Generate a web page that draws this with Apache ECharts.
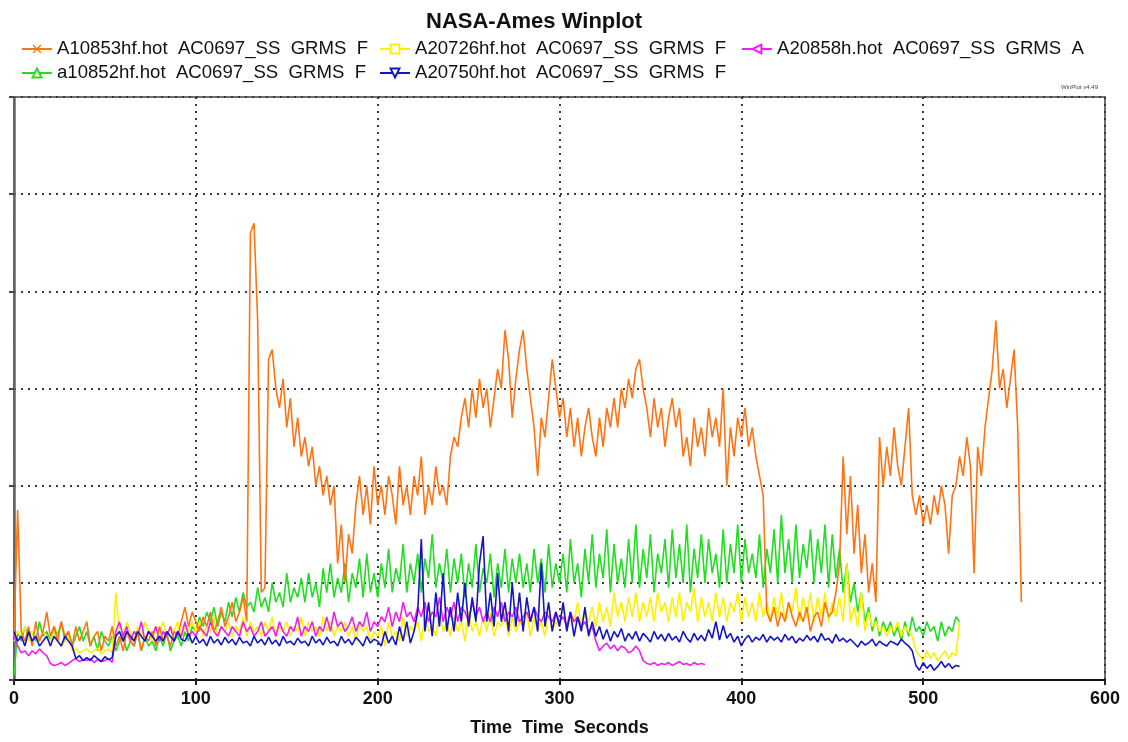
<!DOCTYPE html>
<html>
<head>
<meta charset="utf-8">
<title>NASA-Ames Winplot</title>
<script src="https://cdn.jsdelivr.net/npm/echarts@6/dist/echarts.min.js"></script>
<style>
  html, body { margin: 0; padding: 0; background: #ffffff; }
  #chart { width: 1128px; height: 742px; }
</style>
</head>
<body>
<div id="chart"></div>
<script>
// Sampling interval of the recorded GRMS traces, in seconds
const STEP = 2;

const xTicks = [0, 100, 200, 300, 400, 500, 600];

const nameOrange  = 'A10853hf.hot  AC0697_SS  GRMS  F';
const nameYellow  = 'A20726hf.hot  AC0697_SS  GRMS  F';
const nameMagenta = 'A20858h.hot  AC0697_SS  GRMS  A';
const nameGreen   = 'a10852hf.hot  AC0697_SS  GRMS  F';
const nameBlue    = 'A20750hf.hot  AC0697_SS  GRMS  F';

// GRMS readings, one every STEP seconds starting at t = 0
const orangeVals = [
  0.45,1.75,0.5,0.4,0.55,0.35,0.6,0.4,0.5,0.7,
  0.45,0.55,0.4,0.6,0.45,0.5,0.35,0.55,0.4,0.5,
  0.6,0.35,0.45,0.5,0.3,0.45,0.4,0.55,0.35,0.45,
  0.3,0.5,0.4,0.35,0.5,0.3,0.45,0.4,0.5,0.35,
  0.55,0.4,0.45,0.35,0.5,0.45,0.6,0.75,0.55,0.7,
  0.6,0.5,0.65,0.55,0.7,0.5,0.6,0.75,0.55,0.65,
  0.8,0.6,0.7,0.85,0.6,4.6,4.7,3.7,0.9,0.95,
  3.3,3.4,3.0,2.8,3.1,2.6,2.9,2.4,2.7,2.3,
  2.5,2.2,2.4,2.0,2.2,1.9,2.1,1.8,2.0,1.2,
  1.6,1.0,1.5,1.3,1.8,2.1,1.7,2.0,1.6,2.2,
  1.8,2.0,1.7,2.1,1.9,1.6,2.2,1.8,2.0,1.7,
  2.1,1.9,2.3,1.7,2.0,1.8,2.2,1.9,2.0,1.8,
  2.3,2.5,2.4,2.7,2.9,2.6,3.0,2.7,3.1,2.8,
  3.0,2.6,2.9,3.2,3.0,3.6,3.3,2.7,3.1,3.4,
  3.6,3.2,2.9,2.6,2.1,2.7,2.5,2.9,3.3,3.0,
  2.7,2.9,2.5,2.8,2.4,2.7,2.3,2.6,2.8,2.5,
  2.3,2.7,2.4,2.8,2.6,2.9,2.6,3.0,2.8,3.1,
  2.9,3.2,3.3,3.0,2.8,2.5,2.9,2.6,2.8,2.4,
  2.7,2.9,2.6,2.8,2.3,2.5,2.2,2.7,2.4,2.6,
  2.3,2.8,2.5,2.7,2.4,3.0,2.0,2.6,2.3,2.7,
  2.5,2.8,2.4,2.6,2.3,2.1,1.9,0.7,0.6,0.75,
  0.55,0.7,0.6,0.8,0.65,0.55,0.7,0.6,0.75,0.5,
  0.65,0.7,0.55,0.8,0.65,0.7,0.9,1.2,2.3,1.5,
  2.1,1.3,1.8,1.1,1.5,0.9,1.2,0.8,2.5,2.0,
  2.4,2.1,2.6,2.2,2.0,2.4,2.8,1.9,1.7,1.9,
  1.6,1.8,1.6,1.9,1.7,2.0,1.8,1.3,1.9,2.0,
  2.3,2.1,2.5,2.2,1.1,2.4,2.1,2.6,2.9,3.2,
  3.7,3.0,3.2,2.8,3.1,3.4,2.6,0.8
];

const greenVals = [
  0.05,0.5,0.4,0.55,0.45,0.5,0.4,0.6,0.45,0.5,
  0.4,0.55,0.45,0.6,0.4,0.5,0.35,0.45,0.55,0.4,
  0.5,0.35,0.45,0.3,0.5,0.4,0.35,0.45,0.3,0.4,
  0.45,0.3,0.4,0.35,0.5,0.3,0.45,0.35,0.4,0.3,
  0.45,0.35,0.5,0.3,0.4,0.45,0.35,0.5,0.4,0.55,
  0.5,0.65,0.55,0.7,0.6,0.75,0.55,0.7,0.6,0.8,
  0.65,0.85,0.7,0.9,0.75,0.8,0.7,0.95,0.75,0.85,
  0.7,1.0,0.8,0.9,0.75,1.1,0.8,0.95,0.85,1.05,
  0.8,1.1,0.85,1.0,0.75,1.15,0.9,1.2,0.85,1.05,
  0.9,1.2,0.8,1.1,0.95,1.25,0.85,1.3,0.9,1.1,
  0.85,1.2,0.95,1.35,0.9,1.15,1.0,1.4,0.9,1.2,
  1.0,1.3,0.9,1.25,1.05,1.5,0.95,1.2,1.0,1.35,
  0.9,1.25,1.0,1.3,0.85,1.2,0.95,1.4,0.9,1.15,
  1.0,1.3,0.85,1.2,0.95,1.35,0.9,1.25,1.0,1.3,
  0.95,1.2,0.9,1.35,1.0,1.25,0.9,1.4,0.95,1.2,
  1.0,1.3,0.9,1.45,1.0,1.2,0.85,1.35,1.0,1.5,
  0.95,1.3,1.05,1.55,0.9,1.4,1.0,1.25,0.95,1.45,
  1.0,1.6,0.95,1.35,1.05,1.5,0.9,1.3,1.1,1.45,
  0.95,1.55,1.05,1.4,1.0,1.6,0.9,1.35,1.05,1.5,
  1.0,1.45,1.1,1.3,0.95,1.55,1.0,1.4,1.1,1.6,
  1.0,1.45,1.1,1.3,1.05,1.5,0.95,1.35,1.1,1.55,
  1.0,1.7,1.1,1.45,1.0,1.6,1.05,1.4,1.15,1.55,
  1.0,1.45,1.1,1.6,0.95,1.5,1.05,1.35,0.9,1.2,
  0.8,1.0,0.7,0.9,0.6,0.75,0.5,0.65,0.45,0.6,
  0.5,0.6,0.45,0.55,0.4,0.6,0.45,0.65,0.5,0.55,
  0.45,0.6,0.5,0.55,0.4,0.6,0.45,0.55,0.5,0.65,
  0.6
];

const yellowVals = [
  0.4,0.5,0.45,0.55,0.4,0.5,0.45,0.4,0.5,0.45,
  0.4,0.5,0.45,0.35,0.4,0.45,0.3,0.32,0.28,0.3,
  0.32,0.28,0.3,0.33,0.27,0.3,0.32,0.28,0.9,0.5,
  0.45,0.6,0.5,0.4,0.55,0.45,0.6,0.5,0.4,0.55,
  0.5,0.6,0.45,0.55,0.5,0.6,0.45,0.55,0.5,0.6,
  0.5,0.6,0.45,0.55,0.5,0.65,0.45,0.55,0.5,0.6,
  0.45,0.55,0.5,0.65,0.45,0.6,0.5,0.55,0.45,0.6,
  0.5,0.65,0.45,0.55,0.5,0.6,0.45,0.55,0.5,0.65,
  0.45,0.6,0.5,0.55,0.45,0.65,0.5,0.6,0.45,0.55,
  0.5,0.6,0.45,0.55,0.4,0.6,0.5,0.55,0.4,0.5,
  0.45,0.55,0.35,0.6,0.45,0.5,0.4,0.65,0.45,0.55,
  0.5,0.6,0.4,0.65,0.5,0.55,0.45,0.7,0.5,0.6,
  0.45,0.65,0.5,0.6,0.4,0.7,0.5,0.6,0.45,0.65,
  0.5,0.7,0.45,0.6,0.55,0.7,0.45,0.65,0.5,0.6,
  0.55,0.7,0.45,0.65,0.5,0.6,0.45,0.7,0.5,0.6,
  0.55,0.75,0.5,0.65,0.6,0.8,0.55,0.7,0.6,0.75,
  0.55,0.8,0.6,0.75,0.55,0.9,0.65,0.8,0.6,0.85,
  0.65,0.9,0.6,0.8,0.65,0.85,0.6,0.9,0.7,0.8,
  0.6,0.85,0.65,0.9,0.6,0.8,0.7,0.95,0.6,0.85,
  0.65,0.8,0.6,0.9,0.65,0.85,0.6,0.8,0.7,0.9,
  0.6,0.85,0.65,0.8,0.6,0.9,0.65,0.8,0.6,0.85,
  0.65,0.9,0.6,0.8,0.7,0.95,0.6,0.85,0.65,0.9,
  0.6,0.85,0.65,0.9,0.6,0.8,0.65,0.85,0.6,1.2,
  0.6,0.75,0.55,0.9,0.5,0.7,0.55,0.6,0.5,0.55,
  0.45,0.55,0.5,0.6,0.45,0.55,0.5,0.45,0.3,0.25,
  0.2,0.3,0.22,0.28,0.2,0.25,0.3,0.22,0.28,0.25,
  0.6
];

const blueVals = [
  0.5,0.4,0.45,0.35,0.5,0.4,0.45,0.35,0.4,0.45,
  0.35,0.45,0.4,0.35,0.45,0.4,0.35,0.22,0.25,0.2,
  0.23,0.2,0.25,0.22,0.19,0.24,0.21,0.23,0.45,0.5,
  0.4,0.5,0.45,0.4,0.5,0.45,0.4,0.5,0.45,0.4,
  0.45,0.4,0.5,0.45,0.4,0.5,0.42,0.4,0.48,0.38,
  0.45,0.38,0.42,0.35,0.45,0.38,0.42,0.36,0.44,0.38,
  0.42,0.36,0.44,0.38,0.4,0.35,0.45,0.38,0.42,0.36,
  0.44,0.37,0.41,0.35,0.45,0.38,0.4,0.36,0.43,0.38,
  0.4,0.35,0.45,0.38,0.42,0.36,0.44,0.38,0.4,0.35,
  0.45,0.38,0.42,0.36,0.44,0.4,0.35,0.45,0.38,0.42,
  0.4,0.35,0.5,0.38,0.45,0.36,0.55,0.4,0.6,0.38,
  0.5,0.7,1.45,0.5,0.8,0.45,0.9,0.55,1.1,0.5,
  0.75,0.5,0.9,0.6,1.0,0.55,0.85,0.6,1.2,1.48,
  0.6,0.9,0.55,1.1,0.6,0.8,0.5,1.0,0.55,0.9,
  0.5,0.85,0.6,0.75,0.5,1.2,0.55,0.8,0.5,0.7,
  0.55,0.8,0.5,0.7,0.45,0.65,0.5,0.75,0.45,0.6,
  0.45,0.55,0.42,0.52,0.4,0.5,0.44,0.53,0.4,0.48,
  0.42,0.5,0.4,0.48,0.44,0.39,0.5,0.42,0.47,0.4,
  0.48,0.41,0.45,0.39,0.5,0.43,0.39,0.48,0.41,0.46,
  0.4,0.52,0.43,0.6,0.41,0.56,0.43,0.48,0.39,0.45,
  0.35,0.42,0.46,0.39,0.44,0.41,0.47,0.39,0.45,0.41,
  0.44,0.39,0.47,0.41,0.45,0.38,0.43,0.4,0.46,0.41,
  0.45,0.39,0.48,0.41,0.43,0.38,0.47,0.4,0.43,0.39,
  0.42,0.38,0.34,0.4,0.36,0.38,0.42,0.35,0.4,0.37,
  0.35,0.4,0.38,0.36,0.42,0.38,0.35,0.3,0.15,0.1,
  0.18,0.12,0.16,0.1,0.14,0.19,0.13,0.17,0.12,0.15,
  0.14
];

const magentaVals = [
  0.45,0.35,0.28,0.3,0.25,0.3,0.27,0.32,0.28,0.25,
  0.17,0.15,0.16,0.18,0.15,0.17,0.2,0.22,0.19,0.21,
  0.2,0.22,0.18,0.21,0.19,0.2,0.22,0.18,0.5,0.6,
  0.45,0.55,0.4,0.5,0.45,0.6,0.4,0.5,0.45,0.55,
  0.4,0.5,0.45,0.55,0.4,0.5,0.45,0.6,0.45,0.5,
  0.45,0.55,0.5,0.45,0.6,0.5,0.45,0.55,0.5,0.45,
  0.55,0.5,0.45,0.6,0.5,0.55,0.45,0.5,0.6,0.45,
  0.5,0.55,0.45,0.6,0.5,0.45,0.55,0.5,0.65,0.45,
  0.55,0.5,0.6,0.45,0.55,0.5,0.65,0.5,0.7,0.55,
  0.6,0.5,0.55,0.65,0.5,0.6,0.55,0.7,0.5,0.6,
  0.55,0.65,0.6,0.75,0.55,0.7,0.6,0.8,0.65,0.7,
  0.6,0.75,0.65,0.8,0.6,0.7,0.65,0.85,0.6,0.75,
  0.65,0.8,0.6,0.75,0.7,0.6,0.8,0.65,0.75,0.6,
  0.7,0.6,0.75,0.65,0.8,0.6,0.7,0.65,0.75,0.6,
  0.65,0.7,0.6,0.75,0.65,0.6,0.7,0.65,0.6,0.7,
  0.6,0.65,0.55,0.7,0.6,0.65,0.55,0.6,0.5,0.55,
  0.4,0.3,0.35,0.38,0.32,0.36,0.3,0.35,0.33,0.28,
  0.3,0.35,0.3,0.2,0.17,0.16,0.18,0.15,0.17,0.16,
  0.18,0.15,0.17,0.19,0.16,0.17,0.15,0.18,0.16,0.17,
  0.16
];

const colorOrange  = '#FF7412';
const colorYellow  = '#FFF000';
const colorMagenta = '#EE22EE';
const colorGreen   = '#22DD22';
const colorBlue    = '#1414C8';

const FONT = '"Liberation Sans", Arial, sans-serif';

function toPoints(vals) {
  return vals.map((v, i) => [i * STEP, v]);
}

function trace(name, vals, color, symbol, rotate, z) {
  return {
    name: name,
    type: 'line',
    data: toPoints(vals),
    symbol: symbol,
    symbolSize: 9,
    symbolRotate: rotate,
    showSymbol: false,
    silent: true,
    z: z,
    itemStyle: { color: color },
    lineStyle: { color: color, width: 1.6 }
  };
}

const crossPath = 'path://M0,1L1,0L5,4L9,0L10,1L6,5L10,9L9,10L5,6L1,10L0,9L4,5Z';

const legendBase = {
  orient: 'vertical',
  itemWidth: 30,
  itemHeight: 11,
  itemGap: 4,
  selectedMode: false,
  textStyle: { fontFamily: FONT, fontSize: 18.6, color: '#111', lineHeight: 20 }
};

const chart = echarts.init(document.getElementById('chart'), null, { renderer: 'canvas' });

chart.setOption({
  animation: false,
  backgroundColor: '#ffffff',
  title: {
    text: 'NASA-Ames Winplot',
    left: 421,
    top: 6,
    textStyle: { fontFamily: FONT, fontSize: 22, fontWeight: 'bold', color: '#111' }
  },
  legend: [
    Object.assign({}, legendBase, { left: 16, top: 34, data: [nameOrange, nameGreen] }),
    Object.assign({}, legendBase, { left: 374, top: 34, data: [nameYellow, nameBlue] }),
    Object.assign({}, legendBase, { left: 736, top: 34, data: [nameMagenta] })
  ],
  graphic: [{
    type: 'text',
    right: 30,
    top: 84,
    style: { text: 'WinPlot v4.49', fontSize: 6, fill: '#444', fontFamily: FONT }
  }],
  grid: {
    left: 14,
    right: 23,
    top: 97,
    bottom: 59,
    show: true,
    borderColor: '#707070',
    borderWidth: 2
  },
  xAxis: {
    type: 'value',
    min: xTicks[0],
    max: xTicks[xTicks.length - 1],
    interval: xTicks[1] - xTicks[0],
    name: 'Time  Time  Seconds',
    nameLocation: 'middle',
    nameGap: 39,
    nameTextStyle: { fontFamily: FONT, fontSize: 18, fontWeight: 'bold', color: '#111' },
    axisLine: { onZero: false, lineStyle: { color: '#111', width: 2 } },
    axisTick: { show: true, length: 5, lineStyle: { color: '#222', width: 2 } },
    axisLabel: { margin: 10, fontFamily: FONT, fontSize: 18, fontWeight: 'bold', color: '#111' },
    splitLine: { show: true, lineStyle: { color: '#3a3a3a', width: 2, type: [2, 5] } }
  },
  yAxis: {
    type: 'value',
    min: 0,
    max: 6,
    interval: 1,
    axisLine: { show: true, onZero: false, lineStyle: { color: '#666', width: 2.5 } },
    axisTick: { show: true, length: 5, lineStyle: { color: '#444', width: 2 } },
    axisLabel: { show: false },
    splitLine: { show: true, lineStyle: { color: '#3a3a3a', width: 2, type: [2, 5] } }
  },
  series: [
    trace(nameGreen,   greenVals,   colorGreen,   'emptyTriangle', 0,   2),
    trace(nameYellow,  yellowVals,  colorYellow,  'emptyRect',     0,   3),
    trace(nameMagenta, magentaVals, colorMagenta, 'emptyTriangle', 90,  4),
    trace(nameOrange,  orangeVals,  colorOrange,  crossPath,       0,   5),
    trace(nameBlue,    blueVals,    colorBlue,    'emptyTriangle', 180, 6)
  ]
});
</script>
</body>
</html>
